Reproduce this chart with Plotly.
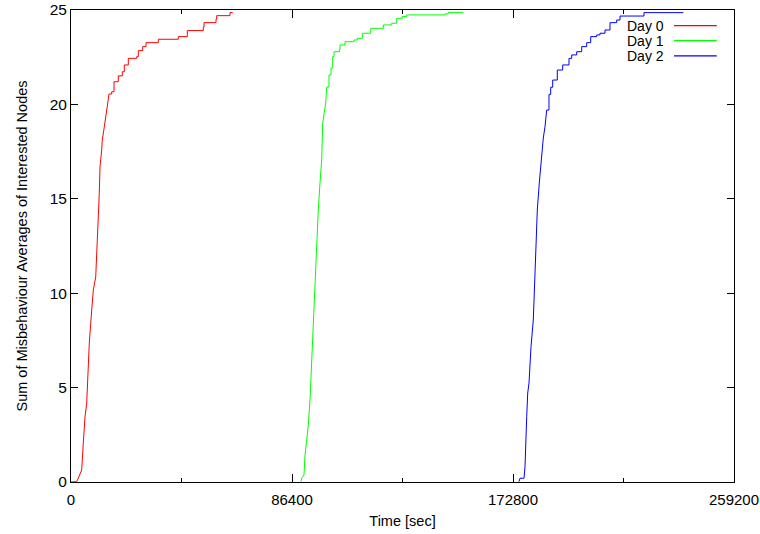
import plotly.graph_objects as go

# Cumulative misbehaviour sums per day (time in seconds, value).
# The fast rise is drawn as a polyline, the saturating tail as steps.
day0_rise_t = [0, 2230, 2850, 4180, 4810, 5470, 6140, 6760, 7150, 8090, 8720,
               9660, 10050, 10670, 11060, 11340, 12000, 12240, 13020, 13960, 14860]
day0_rise_v = [0, 0.02, 0.2, 0.64, 2.07, 3.44, 4.18, 6.30, 7.36, 9.11, 10.17,
               10.86, 12.45, 14.04, 15.31, 16.69, 17.59, 18.12, 18.81, 19.70, 20.55]
day0_step_t = [14860, 15910, 16810, 18490, 20060, 20840, 22400, 25690, 26310,
               28030, 29320, 34130, 41950, 45470, 51720, 52000, 56690, 56960,
               62160, 63220]
day0_step_v = [20.55, 20.67, 21.20, 21.51, 21.73, 22.09, 22.44, 22.53, 22.85,
               23.06, 23.27, 23.45, 23.59, 23.91, 24.09, 24.33, 24.51, 24.70,
               24.86, 24.86]

day1_rise_t = [89920, 90190, 91090, 91480, 92150, 92770, 93440, 94100, 94730,
               95120, 95670, 96060, 96680, 97350, 98010, 98400, 99030, 99580,
               99970]
day1_rise_v = [0.02, 0.2, 0.37, 1.43, 2.22, 3.02, 4.34, 6.57, 8.42,
               10.01, 11.92, 12.98, 14.41, 15.84, 17.06, 19.02, 19.70, 20.07,
               20.92]
day1_step_t = [99970, 100870, 101650, 102310, 102820, 104890, 105170, 107120,
               110640, 111930, 113890, 117170, 122100, 125380, 127330, 129520,
               131240, 146220, 147510, 153370]
day1_step_v = [20.92, 21.56, 21.93, 22.53, 22.79, 22.88, 23.15, 23.32,
               23.41, 23.50, 23.77, 24.03, 24.21, 24.30, 24.56, 24.65,
               24.74, 24.79, 24.86, 24.86]

day2_rise_t = [175150, 175540, 177100, 177490, 178160, 178550, 179060, 179840,
               180740, 181130, 181670, 182300, 183080, 184020, 184650, 185310,
               185970]
day2_rise_v = [0.02, 0.2, 0.2, 0.81, 3.46, 4.71, 5.24, 7.17,
               8.58, 10.01, 11.93, 14.41, 15.84, 17.43, 18.22, 18.82,
               19.70]
day2_step_t = [185970, 186870, 187540, 188320, 190120, 192230, 194690, 195750,
               197700, 199660, 201610, 203180, 205520, 206810, 208770, 210720,
               213340, 214630, 223120, 224010, 239380]
day2_step_v = [19.70, 20.53, 20.91, 21.29, 21.82, 22.09, 22.44, 22.62,
               22.79, 23.06, 23.27, 23.59, 23.68, 23.77, 23.94, 24.33,
               24.47, 24.68, 24.68, 24.86, 24.86]

series_names = ["Day 0", "Day 1", "Day 2"]
series_colors = ["#ff0000", "#00ff00", "#0000ff"]
x_ticks = [0, 86400, 172800, 259200]
y_ticks = [0, 5, 10, 15, 20, 25]

FONT = "Liberation Sans, Arial, Helvetica, sans-serif"

series = [
    (day0_rise_t, day0_rise_v, day0_step_t, day0_step_v),
    (day1_rise_t, day1_rise_v, day1_step_t, day1_step_v),
    (day2_rise_t, day2_rise_v, day2_step_t, day2_step_v),
]

fig = go.Figure()
for name, color, (rt, rv, st, sv) in zip(series_names, series_colors, series):
    fig.add_trace(go.Scatter(x=rt, y=rv, mode="lines", name=name,
                             legendgroup=name, showlegend=False,
                             line=dict(color=color, width=1, shape="linear")))
    fig.add_trace(go.Scatter(x=st, y=sv, mode="lines", name=name,
                             legendgroup=name, showlegend=False,
                             line=dict(color=color, width=1, shape="hv")))

# gnuplot-style key: label on the left, line sample on the right
key_rows_y = [0.967, 0.935, 0.903]
for name, color, yy in zip(series_names, series_colors, key_rows_y):
    fig.add_annotation(x=0.896, y=yy, xref="paper", yref="paper",
                       text=name, showarrow=False, xanchor="right",
                       yanchor="middle", borderpad=0,
                       font=dict(family=FONT, size=14, color="#000"))
    fig.add_shape(type="line", xref="paper", yref="paper", layer="above",
                  x0=0.9095, x1=0.974, y0=yy, y1=yy,
                  line=dict(color=color, width=1.2))

axis_common = dict(showgrid=False, zeroline=False, showline=True,
                   linecolor="#000", linewidth=1, mirror="ticks",
                   ticks="inside", tickcolor="#000",
                   title_font=dict(family=FONT, size=14.5, color="#000"))

fig.update_xaxes(range=[0, 259200], tickvals=x_ticks,
                 ticktext=[str(v) for v in x_ticks], ticklen=8,
                 ticklabelstandoff=4,
                 tickfont=dict(family=FONT, size=15, color="#000"),
                 minor=dict(dtick=43200, tick0=0, ticks="inside", ticklen=4,
                            tickcolor="#000"),
                 title_text="Time [sec]", title_standoff=8, **axis_common)
fig.update_yaxes(range=[0, 25], tickvals=y_ticks, ticklen=7,
                 tickfont=dict(family=FONT, size=15.5, color="#000"),
                 title_text="Sum of Misbehaviour Averages of Interested Nodes",
                 title_standoff=18, **axis_common)

fig.update_layout(width=760, height=534,
                  margin=dict(l=71, r=26, t=10, b=52, autoexpand=False),
                  plot_bgcolor="#fff", paper_bgcolor="#fff")

fig.write_html("out.html")
